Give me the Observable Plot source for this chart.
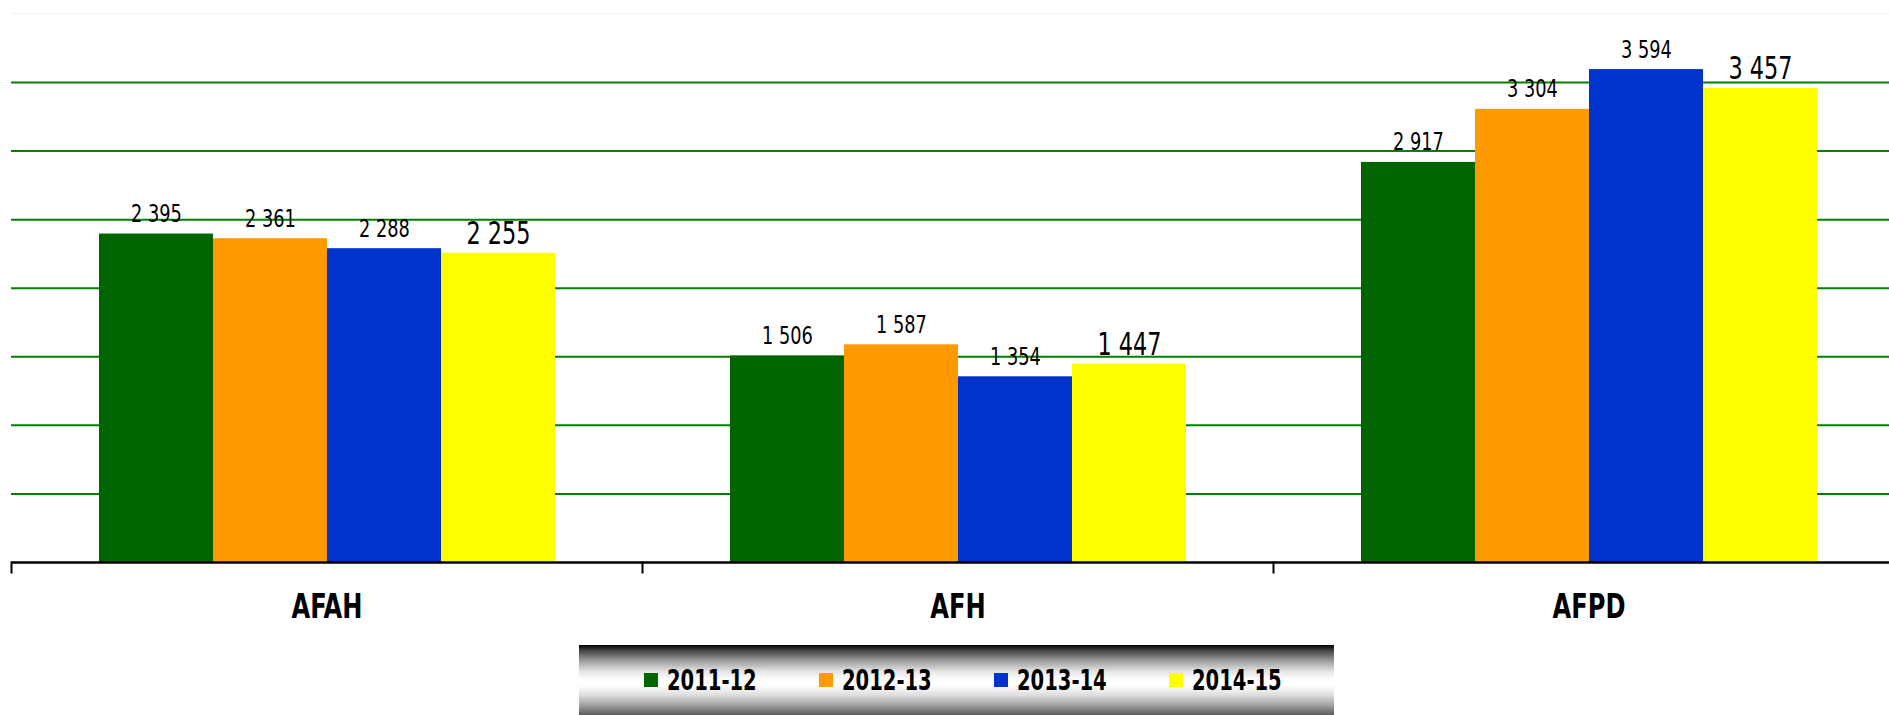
<!DOCTYPE html>
<html>
<head>
<meta charset="utf-8">
<script src="https://cdn.jsdelivr.net/npm/d3@7"></script>
<script src="https://cdn.jsdelivr.net/npm/@observablehq/plot@0.6"></script>
<style>
  html, body { margin: 0; padding: 0; background: #fff; overflow: hidden; }
  #chart svg { display: block; max-width: none !important; }
  #legend {
    margin-left: 579px;
    margin-top: 5px;
    width: 755px;
    height: 70px;
    box-sizing: border-box;
    padding-left: 65px;
    display: flex;
    align-items: center;
    background: linear-gradient(to bottom, #000 0%, #444 8%, #9a9a9a 22%, #e6e6e6 38%, #ffffff 50%, #ffffff 58%, #dcdcdc 72%, #999 88%, #5a5a5a 100%);
    font-family: "Liberation Sans Narrow", "DejaVu Sans Condensed", "DejaVu Sans", sans-serif;
    font-weight: bold;
    font-size: 27.5px;
    color: #000;
  }
  .item { display: inline-flex; align-items: center; width: 175px; flex: 0 0 175px; white-space: nowrap; }
  .sw { width: 14px; height: 14px; margin-right: 9px; flex: 0 0 14px; }
  .lab { display: inline-block; transform: scaleX(0.79); transform-origin: left center; }
</style>
</head>
<body>
<div id="chart"></div>
<div id="legend"></div>
<script>
const categories = ["AFAH", "AFH", "AFPD"];
const seriesNames = ["2011-12", "2012-13", "2013-14", "2014-15"];
const seriesColors = ["#006400", "#FF9900", "#0033CC", "#FFFF00"];
const values2011 = [2395, 1506, 2917];
const values2012 = [2361, 1587, 3304];
const values2013 = [2288, 1354, 3594];
const values2014 = [2255, 1447, 3457];
const gridValues = [500, 1000, 1500, 2000, 2500, 3000, 3500];
const yMax = 4000;

const seriesValues = [values2011, values2012, values2013, values2014];
const data = [];
categories.forEach((c, ci) => {
  seriesNames.forEach((s, si) => {
    data.push({category: c, series: s, value: seriesValues[si][ci]});
  });
});

const fmt = d3.formatLocale({thousands: "\u00a0", grouping: [3], decimal: ","}).format(",d");

const W = 1904, H = 640, mTop = 13.4, mBottom = 78;
const innerH = H - mTop - mBottom;
const narrow = "'Liberation Sans Narrow', 'DejaVu Sans Condensed', 'DejaVu Sans', sans-serif";

const chart = Plot.plot({
  width: W,
  height: H,
  marginLeft: 11,
  marginRight: 0,
  marginTop: mTop,
  marginBottom: mBottom,
  style: {background: "#fff", overflow: "visible", maxWidth: "none"},
  fx: {domain: categories, padding: 0, axis: null},
  x: {domain: seriesNames, paddingInner: 0, paddingOuter: 0.75, axis: null},
  y: {domain: [0, yMax], axis: null},
  color: {domain: seriesNames, range: seriesColors},
  marks: [
    Plot.ruleY([yMax], {stroke: "#f0f0f0", strokeWidth: 1}),
    Plot.ruleY(gridValues, {stroke: "#008000", strokeWidth: 2}),
    Plot.barY(data, {fx: "category", x: "series", y: "value", fill: "series"}),
    Plot.ruleY([0], {stroke: "#000", strokeWidth: 2.5}),
    Plot.frame({anchor: "left", stroke: "#000", strokeWidth: 2, insetTop: innerH, insetBottom: -10}),
    Plot.text(data.filter(d => d.series !== "2014-15"), {
      fx: "category", x: "series", y: "value", text: d => fmt(d.value),
      lineAnchor: "bottom", dy: -12, fontSize: 25, fontFamily: narrow, fill: "#000"
    }),
    Plot.text(data.filter(d => d.series === "2014-15"), {
      fx: "category", x: "series", y: "value", text: d => fmt(d.value),
      lineAnchor: "bottom", dy: -9, fontSize: 31.5, fontFamily: narrow, fill: "#000"
    }),
    Plot.axisFx({anchor: "bottom", tickSize: 0, tickPadding: 31, fontSize: 34, fontWeight: "bold", fontFamily: narrow, fill: "#000", label: null})
  ]
});
chart.style.maxWidth = "none";
// condensed look of the original typeface
d3.select(chart).selectAll("text").each(function() {
  const t = this.getAttribute("transform") || "";
  this.setAttribute("transform", (t + " scale(0.79,1)").trim());
});
document.getElementById("chart").appendChild(chart);

const legend = document.getElementById("legend");
seriesNames.forEach((s, i) => {
  const item = document.createElement("div");
  item.className = "item";
  const sw = document.createElement("span");
  sw.className = "sw";
  sw.style.background = seriesColors[i];
  const lab = document.createElement("span");
  lab.className = "lab";
  lab.textContent = s;
  item.appendChild(sw);
  item.appendChild(lab);
  legend.appendChild(item);
});
</script>
</body>
</html>
